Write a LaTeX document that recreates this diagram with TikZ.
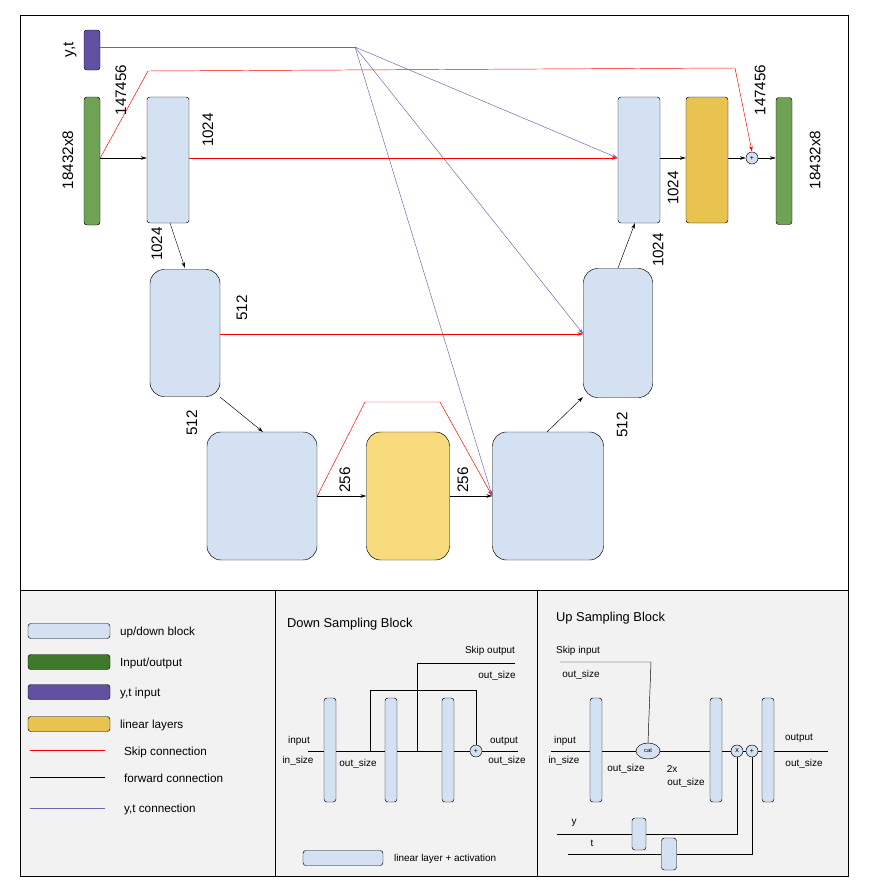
\documentclass[tikz,border=0pt]{standalone}
\usepackage{fontspec}
\setmainfont{Liberation Sans}
\usetikzlibrary{arrows.meta,shapes.geometric}
\def\pxu{0.03cm}
\definecolor{blockblue}{HTML}{D4E1F2}
\definecolor{ingreen}{HTML}{6FA353}
\definecolor{dkgreen}{HTML}{3E7A2A}
\definecolor{ytpurple}{HTML}{6251A3}
\definecolor{linyellow}{HTML}{E8C34F}
\definecolor{midyellow}{HTML}{F8DB7C}
\definecolor{panelgray}{HTML}{F2F2F2}
\tikzset{
  box/.style 2 args={draw, rounded corners=2.5pt, minimum width=#1*\pxu, minimum height=#2*\pxu, inner sep=0pt},
  bigbox/.style 2 args={draw, rounded corners=12pt, minimum width=#1*\pxu, minimum height=#2*\pxu, inner sep=0pt},
  dim/.style={rotate=90, font=\fontsize{13}{13}\selectfont},
  fwd/.style={-{Stealth[length=5pt,width=3pt]}},
  skip/.style={red, -{Stealth[length=5pt,width=3pt]}},
  ytc/.style={ytpurple!90, -{Stealth[length=5pt,width=3pt]}},
  small/.style={font=\fontsize{8.5}{9}\selectfont},
  leg/.style={font=\fontsize{10}{11}\selectfont, anchor=west},
  ring/.style={draw, fill=blockblue, circle, minimum size=12*\pxu, inner sep=0pt, font=\fontsize{6}{6}\selectfont}
}
\begin{document}
\begin{tikzpicture}[x=\pxu, y=-\pxu]
  \useasboundingbox (0,0) rectangle (882,896);
  % panels
  \fill[panelgray] (20,590) rectangle (848,876);
  \draw (20,15) rectangle (848,876);
  \draw (20,590) -- (848,590);
  \draw (275,590) -- (275,876);
  \draw (537,590) -- (537,876);

  % main blocks
  \node[box={16}{40}, fill=ytpurple] (yt) at (92,50) {};
  \node[box={16}{128}, fill=ingreen] (in) at (92,161) {};
  \node[box={42}{126}, fill=blockblue] (d1) at (168,160) {};
  \node[bigbox={70}{127}, fill=blockblue] (d2) at (185,333) {};
  \node[bigbox={110}{128}, fill=blockblue] (d3) at (262,496) {};
  \node[bigbox={83}{128}, fill=midyellow] (mid) at (408,496) {};
  \node[bigbox={111}{128}, fill=blockblue] (u3) at (548,496) {};
  \node[bigbox={69}{129}, fill=blockblue] (u2) at (618,333) {};
  \node[box={42}{126}, fill=blockblue] (u1) at (639,160) {};
  \node[box={42}{126}, fill=linyellow] (lin) at (707,160) {};
  \node[ring] (sum) at (752,158) {+};
  \node[box={16}{127}, fill=ingreen] (out) at (784,161) {};

  % forward
  \draw[fwd] (in.east |- 0,158) -- (d1.west |- 0,158);
  \draw[fwd] (170,223) -- (185,268);
  \draw[fwd] (220,397) -- (263,432);
  \draw[fwd] (d3.east) -- (mid.west);
  \draw[fwd] (mid.east) -- (u3.west);
  \draw[fwd] (547,432) -- (583,397);
  \draw[fwd] (618,268) -- (635,223);
  \draw[fwd] (u1.east |- 0,158) -- (lin.west |- 0,158);
  \draw[fwd] (lin.east |- 0,158) -- (sum.west);
  \draw[fwd] (sum.east) -- (out.west |- 0,158);

  % skip
  \draw[skip] (in.east |- 0,158) -- (148,71) -- (735,68) -- (sum.north);
  \draw[skip] (d1.east |- 0,158) -- (u1.west |- 0,158);
  \draw[skip] (d2.east |- 0,334) -- (u2.west |- 0,334);
  \draw[skip] (d3.east) -- (365,402) -- (440,402) -- (u3.west);

  % y,t
  \coordinate (apex) at (355,47);
  \draw[ytpurple!90] (yt.east |- apex) -- (apex);
  \draw[ytc] (apex) -- (u1.west |- 0,158);
  \draw[ytc] (apex) -- (u2.west |- 0,334);
  \draw[ytc] (apex) -- (u3.west);

  % dimensions
  \node[dim] at (70,50) {y,t};
  \node[dim] at (68,160) {18432x8};
  \node[dim] at (121,90) {147456};
  \node[dim] at (208,130) {1024};
  \node[dim] at (157,244) {1024};
  \node[dim] at (242,308) {512};
  \node[dim] at (192,423) {512};
  \node[dim] at (345,480) {256};
  \node[dim] at (463,480) {256};
  \node[dim] at (622,425) {512};
  \node[dim] at (658,250) {1024};
  \node[dim] at (673,188) {1024};
  \node[dim] at (760,90) {147456};
  \node[dim] at (815,160) {18432x8};

  % legend
  \node[box={82}{15}, fill=blockblue] (lg1) at (69,631) {};
  \node[box={82}{15}, fill=dkgreen] (lg2) at (69,662) {};
  \node[box={82}{15}, fill=ytpurple] (lg3) at (69,692) {};
  \node[box={82}{15}, fill=linyellow] (lg4) at (69,724) {};
  \node[leg] at (116,632) {up/down block};
  \node[leg] at (116,663) {Input/output};
  \node[leg] at (116,693) {y,t input};
  \node[leg] at (116,725) {linear layers};
  \draw[red] (30,750) -- (105,750);
  \draw (30,777) -- (105,777);
  \draw[ytpurple!90] (30,808) -- (105,808);
  \node[leg] at (120,752) {Skip connection};
  \node[leg] at (120,778) {forward connection};
  \node[leg] at (120,809) {y,t connection};

  % down sampling block
  \node[leg, font=\fontsize{11}{12}\selectfont] at (283,624) {Down Sampling Block};
  \node[box={12}{104}, fill=blockblue] (da) at (330,750) {};
  \node[box={12}{104}, fill=blockblue] (db) at (391,750) {};
  \node[box={12}{104}, fill=blockblue] (dc) at (448,750) {};
  \node[ring] (dsum) at (476,751) {+};
  \coordinate (din) at (308,751);
  \coordinate (dout) at (518,751);
  \draw (din) -- (da.west |- din);
  \draw (da.east |- din) -- (db.west |- din);
  \draw (db.east |- din) -- (dc.west |- din);
  \draw (dc.east |- din) -- (dsum.west);
  \draw (dsum.east) -- (dout);
  \draw (370,751) -- (370,690) -- (476,690) -- (dsum.north);
  \draw (417,751) -- (417,663) -- (515,663);
  \node[small] at (299,741) {input};
  \node[small] at (298,761) {in\_size};
  \node[small] at (358,764) {out\_size};
  \node[small] at (490,651) {Skip output};
  \node[small] at (497,676) {out\_size};
  \node[small] at (504,741) {output};
  \node[small] at (507,761) {out\_size};
  \node[box={80}{15}, fill=blockblue] (dlg) at (343,858) {};
  \node[small, anchor=west] at (390,859) {linear layer + activation};

  % up sampling block
  \node[leg, font=\fontsize{11}{12}\selectfont] at (552,618) {Up Sampling Block};
  \node[box={12}{104}, fill=blockblue] (ua) at (596,750) {};
  \node[draw, fill=blockblue, ellipse, minimum width=24*\pxu, minimum height=16*\pxu, inner sep=0pt, font=\fontsize{5}{5}\selectfont] (cat) at (648,751) {cat};
  \node[box={12}{104}, fill=blockblue] (ub) at (716,750) {};
  \node[ring] (mul) at (737,751) {x};
  \node[ring] (add) at (752,751) {+};
  \node[box={12}{104}, fill=blockblue] (uc) at (768,750) {};
  \coordinate (uin) at (551,751);
  \coordinate (uout) at (828,751);
  \draw (uin) -- (ua.west |- uin);
  \draw (ua.east |- uin) -- (cat.west);
  \draw (cat.east) -- (ub.west |- uin);
  \draw (ub.east |- uin) -- (mul.west);
  \draw (mul.east) -- (add.west);
  \draw (add.east) -- (uc.west |- uin);
  \draw (uc.east |- uin) -- (uout);
  \draw (560,662) -- (651,662) -- (cat.north);
  \node[box={14}{32}, fill=blockblue] (ylin) at (639,834) {};
  \node[box={15}{32}, fill=blockblue] (tlin) at (669,854) {};
  \draw (557,834) -- (ylin.west);
  \draw (ylin.east) -- (737,834) -- (mul.south);
  \draw (568,854) -- (tlin.west);
  \draw (tlin.east) -- (752,854) -- (add.south);
  \node[small] at (574,823) {y};
  \node[small] at (592,843) {t};
  \node[small] at (578,651) {Skip input};
  \node[small] at (581,675) {out\_size};
  \node[small] at (565,741) {input};
  \node[small] at (564,761) {in\_size};
  \node[small] at (626,769) {out\_size};
  \node[small] at (672,769) {2x};
  \node[small] at (686,783) {out\_size};
  \node[small] at (799,738) {output};
  \node[small] at (804,764) {out\_size};
\end{tikzpicture}
\end{document}
